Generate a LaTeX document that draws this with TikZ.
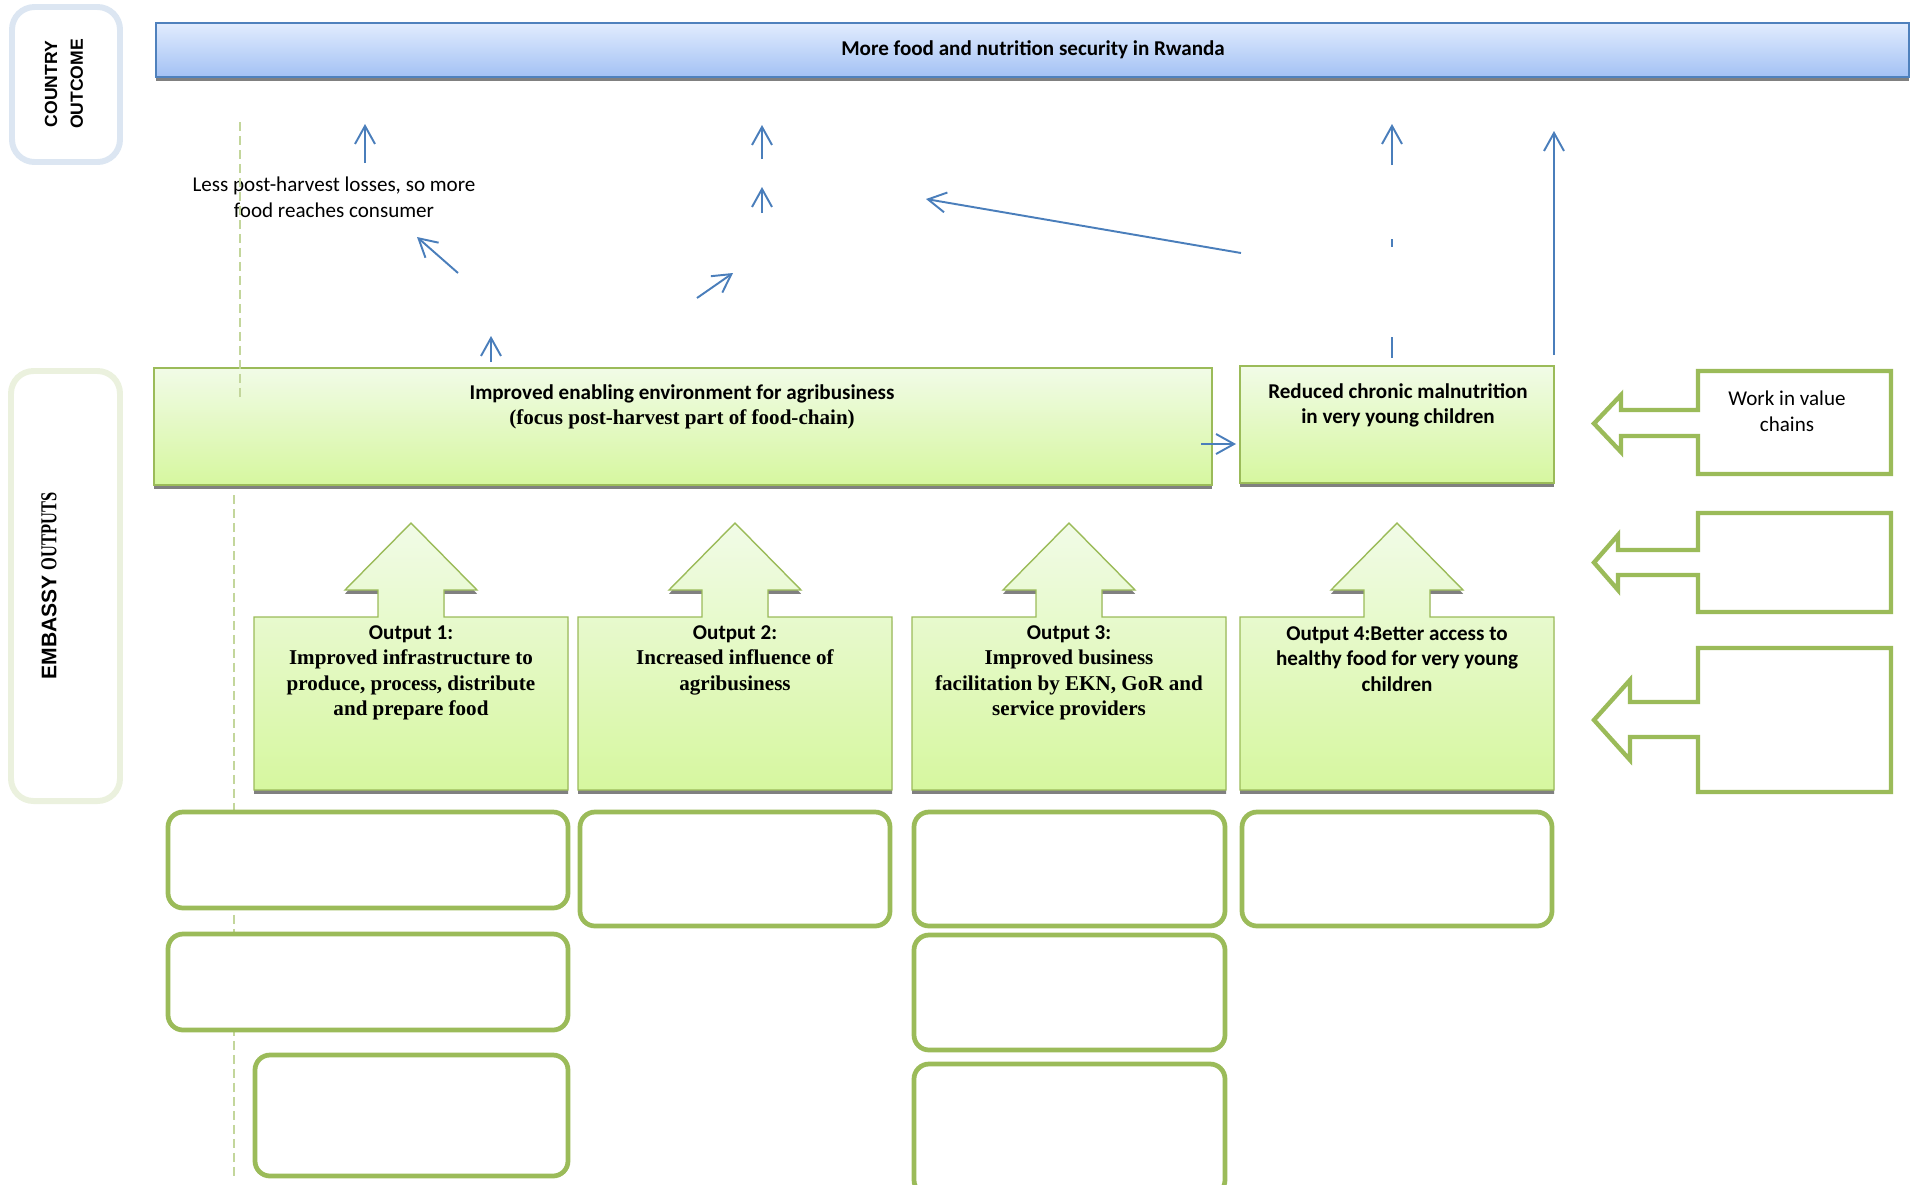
\documentclass[tikz,border=0pt]{standalone}
\usepackage{fontspec}
\usepackage{graphicx}
\setmainfont{Carlito}
\newfontfamily\tnr{Liberation Serif}
\newfontfamily\arl{Liberation Sans}
\usetikzlibrary{arrows.meta,shadows}
\definecolor{barline}{HTML}{4F81BD}
\definecolor{bartop}{HTML}{E1ECFE}
\definecolor{barbot}{HTML}{A3C1F4}
\definecolor{arrblue}{HTML}{4A7EBB}
\definecolor{olive}{HTML}{9BBB59}
\definecolor{gtop}{HTML}{F1FBE7}
\definecolor{gbot}{HTML}{D6F79F}
\definecolor{dashgreen}{HTML}{C3D69B}
\definecolor{frameblue}{HTML}{DCE6F2}
\definecolor{framegreen}{HTML}{EBF1DE}
\begin{document}
\begin{tikzpicture}[x=.02cm,y=-.02cm,font=\fontsize{12}{14.5}\selectfont,
 shad/.style={drop shadow={shadow xshift=0pt,shadow yshift=-.075cm,fill=black!50,opacity=1}},
 bluebar/.style={draw=barline,line width=.9pt,top color=bartop,bottom color=barbot,shad},
 greenbox/.style={draw=olive,line width=.8pt,top color=gtop,bottom color=gbot,shad},
 lanebox/.style={line width=3.4pt,rounded corners=.45cm},
 emptybox/.style={draw=olive,line width=2.7pt,fill=white,rounded corners=.3cm},
 sidearrow/.style={draw=olive,line width=2.5pt,fill=white},
 arr/.style={draw=arrblue,line width=1.1pt,-{Straight Barb[length=.36cm,width=.4cm]}},
 seg/.style={draw=arrblue,line width=1.1pt},
 guide/.style={draw=dashgreen,line width=1.1pt,dash pattern=on .18cm off .1cm},
 txt/.style={inner sep=0pt,align=center,anchor=north},
 bf/.style={font=\fontsize{12}{14.5}\selectfont\bfseries}]
\useasboundingbox (0,0) rectangle (1917,1184);
% lane labels
\draw[lanebox,draw=frameblue] (12,7) rectangle (120,162);
\node[rotate=90,align=center,font=\arl\bfseries\fontsize{10}{14.6}\selectfont] (lblco) at (64,84) {COUNTRY\\OUTCOME};
\draw[lanebox,draw=framegreen] (11,371) rectangle (120,801);
\node[rotate=90,bf] (lblemb) at (49,586) {{\arl EMBASSY} {\tnr\scalebox{.78}[1.08]{OUTPUTS}}};
% country outcome
\path[bluebar] (156,23) rectangle (1909,77);
\node[bf] (goal) at (1033,50) {More food and nutrition security in Rwanda};
\node[txt] (less) at (334,177) {Less post-harvest losses, so more\\food reaches consumer};
% guide lines
\coordinate (g1) at (240,122); \coordinate (g2) at (240,397); \coordinate (g3) at (234,495); \coordinate (g4) at (234,1178);
\draw[guide] (g3) -- (g4);
% intermediate results
\path[greenbox] (154,368) rectangle (1212,485);
\node[txt,bf] (envtxt) at (682,384) {Improved enabling environment for agribusiness\\{\tnr (focus post-harvest part of food-chain)}};
\path[greenbox] (1240,366) rectangle (1554,483);
\node[txt,bf] (redtxt) at (1398,383) {Reduced chronic malnutrition\\in very young children};
\draw[guide] (g1) -- (g2);
% outputs with up arrows
\foreach \i/\cx in {1/411,2/735,3/1069,4/1397}
 \path[greenbox] ({\cx-157},617) -- ({\cx-157},790) -- ({\cx+157},790) -- ({\cx+157},617) -- ({\cx+33},617) -- ({\cx+33},590) -- ({\cx+66},590) -- (\cx,523) -- ({\cx-66},590) -- ({\cx-33},590) -- ({\cx-33},617) -- cycle;
\node[txt,bf] (out1) at (411,625) {Output 1:\\{\tnr Improved infrastructure to}\\{\tnr produce, process, distribute}\\{\tnr and prepare food}};
\node[txt,bf] (out2) at (735,625) {Output 2:\\{\tnr Increased influence of}\\{\tnr agribusiness}};
\node[txt,bf] (out3) at (1069,625) {Output 3:\\{\tnr Improved business}\\{\tnr facilitation by EKN, GoR and}\\{\tnr service providers}};
\node[txt,bf] (out4) at (1397,626) {Output 4:Better access to\\healthy food for very young\\children};
% empty activity boxes
\draw[emptybox] (168,812) rectangle (568,908);
\draw[emptybox] (168,934) rectangle (568,1030);
\draw[emptybox] (255,1055) rectangle (568,1176);
\draw[emptybox] (580,812) rectangle (890,926);
\draw[emptybox] (914,812) rectangle (1225,926);
\draw[emptybox] (914,935) rectangle (1225,1050);
\draw[emptybox] (914,1064) rectangle (1225,1195);
\draw[emptybox] (1242,812) rectangle (1552,926);
% left arrow callouts
\foreach \t/\b/\ha/\sa/\sb/\hb/\hx in {371/474/395/410/436/452/1621,513/612/535/550/575/590/1618,648/792/680/702/737/760/1630}
 \draw[sidearrow] (1698,\t) -- (1891,\t) -- (1891,\b) -- (1698,\b) -- (1698,\sb) -- (\hx,\sb) -- (\hx,\hb) -- (1594,{(\ha+\hb)/2}) -- (\hx,\ha) -- (\hx,\sa) -- (1698,\sa) -- cycle;
\node[txt] (work) at (1787,391) {Work in value\\chains};
% blue arrows
\foreach \n/\xa/\ya/\xb/\yb in {a/365/163/365/124,b/491/362/491/336,c/458/273/417/237,d/697/298/733/273,e/762/213/762/187,f/762/159/762/125,g/1241/253/926/199,h/1392/165/1392/124,k/1554/355/1554/131,l/1201/444/1236/444}{\coordinate (\n0) at (\xa,\ya); \coordinate (\n1) at (\xb,\yb); \draw[arr] (\n0) -- (\n1);}
\coordinate (s0) at (1392,239); \coordinate (s1) at (1392,247); \coordinate (t0) at (1392,337); \coordinate (t1) at (1392,358);
\draw[seg] (s0) -- (s1) (t0) -- (t1);
\end{tikzpicture}
\end{document}
